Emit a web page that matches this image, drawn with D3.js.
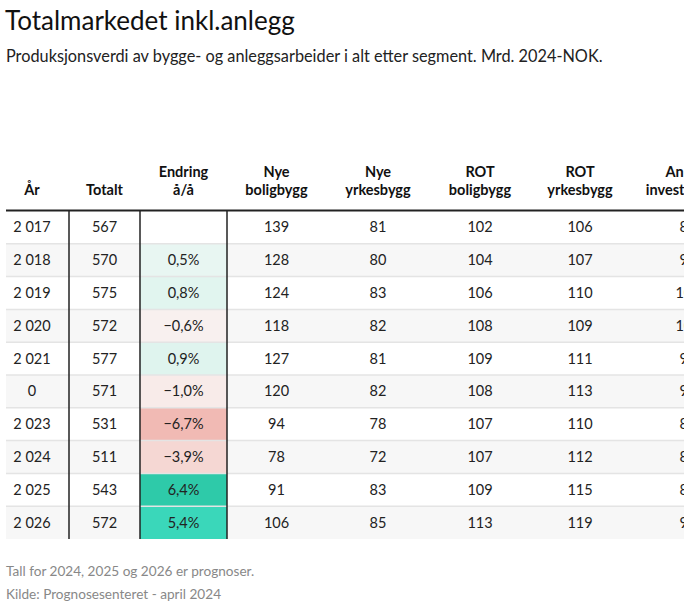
<!DOCTYPE html>
<html><head><meta charset="utf-8">
<script src="https://cdn.jsdelivr.net/npm/d3@7"></script>
<style>
html,body{margin:0;padding:0;background:#fff;}
text{font-family:Lato,"Noto Sans",sans-serif;}
</style></head>
<body><div id="chart"></div>
<script>
const years = [2017, 2018, 2019, 2020, 2021, 0, 2023, 2024, 2025, 2026];
const totalt = [567, 570, 575, 572, 577, 571, 531, 511, 543, 572];
const endring = [null, 0.005, 0.008, -0.006, 0.009, -0.010, -0.067, -0.039, 0.064, 0.054];
const nyeBolig = [139, 128, 124, 118, 127, 120, 94, 78, 91, 106];
const nyeYrkes = [81, 80, 83, 82, 81, 82, 78, 72, 83, 85];
const rotBolig = [102, 104, 106, 108, 109, 108, 107, 107, 109, 113];
const rotYrkes = [106, 107, 110, 109, 111, 113, 110, 112, 115, 119];
const anleggInv = [85, 95, 102, 104, 97, 96, 88, 87, 89, 95];
const headers = [["År"], ["Totalt"], ["Endring", "å/å"], ["Nye", "boligbygg"], ["Nye", "yrkesbygg"], ["ROT", "boligbygg"], ["ROT", "yrkesbygg"], ["Anlegg", "investeringer"]];

(function () {
const W = 690, H = 608;
const svg = d3.select("#chart").append("svg").attr("width", W).attr("height", H);
svg.append("rect").attr("width", W).attr("height", H).attr("fill", "#fff");

svg.append("text").attr("x", 5).attr("y", 30).attr("font-size", 26).attr("fill", "#111")
  .text("Totalmarkedet inkl.anlegg");
svg.append("text").attr("x", 6).attr("y", 62).attr("font-size", 16.3).attr("fill", "#222")
  .text("Produksjonsverdi av bygge- og anleggsarbeider i alt etter segment. Mrd. 2024-NOK.");

const loc = d3.formatLocale({decimal: ",", thousands: "\u00a0", grouping: [3], currency: ["", " kr"], minus: "\u2212", percent: "%"});
const fmtYear = loc.format(",d");
const fmtPct = loc.format(".1%");
const fmtNum = loc.format("d");

const cols = [
  {vals: years, fmt: fmtYear},
  {vals: totalt, fmt: fmtNum},
  {vals: endring, fmt: v => v == null ? "" : fmtPct(v)},
  {vals: nyeBolig, fmt: fmtNum},
  {vals: nyeYrkes, fmt: fmtNum},
  {vals: rotBolig, fmt: fmtNum},
  {vals: rotYrkes, fmt: fmtNum},
  {vals: anleggInv, fmt: fmtNum}
];
const edges = [6, 69, 140, 227];
const centers = [32, 104.5, 183.5, 276.5, 378, 480, 580, 688];

const tableTop = 211, tableBottom = 539, clipR = 684;
const y = d3.scaleBand().domain(d3.range(years.length)).range([tableTop, tableBottom]).padding(0);

const color = d3.scaleLinear()
  .domain([-0.067, -0.039, -0.010, -0.006, 0, 0.005, 0.009, 0.054, 0.064])
  .range(["#f1bab4", "#f5d7d3", "#f8ebe9", "#f8f0ef", "#f6f7f6", "#e8f6f2", "#dff4ee", "#3ad7ba", "#2ecaa9"]);

svg.append("clipPath").attr("id", "clip").append("rect").attr("x", 0).attr("y", 0).attr("width", clipR).attr("height", H);
const g = svg.append("g").attr("clip-path", "url(#clip)");

g.selectAll("rect.row").data(years).join("rect").attr("class", "row")
  .attr("x", edges[0]).attr("width", W).attr("y", (d, i) => y(i)).attr("height", y.bandwidth())
  .attr("fill", (d, i) => i % 2 ? "#f7f7f7" : "#fff");

g.selectAll("rect.chg").data(endring).join("rect").attr("class", "chg")
  .attr("x", edges[2]).attr("width", edges[3] - edges[2]).attr("y", (d, i) => y(i)).attr("height", y.bandwidth())
  .attr("fill", (d, i) => d == null ? (i % 2 ? "#f7f7f7" : "#fff") : color(d));

g.selectAll("line.sep").data(d3.range(1, years.length)).join("line").attr("class", "sep")
  .attr("x1", edges[0]).attr("x2", W).attr("y1", i => y(i)).attr("y2", i => y(i))
  .attr("stroke", "#e4e4e4").attr("stroke-width", 1.5);

g.selectAll("line.vb").data([1, 2, 3]).join("line").attr("class", "vb")
  .attr("x1", i => edges[i]).attr("x2", i => edges[i]).attr("y1", tableTop).attr("y2", tableBottom)
  .attr("stroke", "#222").attr("stroke-width", 1.5);

g.append("line").attr("x1", edges[0]).attr("x2", W).attr("y1", 210.5).attr("y2", 210.5)
  .attr("stroke", "#222").attr("stroke-width", 2.2);

headers.forEach((h, ci) => {
  const t = g.append("text").attr("text-anchor", "middle").attr("font-size", 14.5).attr("font-weight", 700).attr("fill", "#111");
  h.forEach((line, li) => {
    t.append("tspan").attr("x", centers[ci]).attr("y", 195 - (h.length - 1 - li) * 18).text(line);
  });
});

cols.forEach((c, ci) => {
  g.selectAll("text.c" + ci).data(c.vals).join("text").attr("class", "c" + ci)
    .attr("x", centers[ci]).attr("y", (d, i) => y(i) + y.bandwidth() / 2 + 5)
    .attr("text-anchor", "middle").attr("font-size", 14.5).attr("fill", "#222")
    .text(d => c.fmt(d));
});

svg.append("text").attr("x", 6).attr("y", 576).attr("font-size", 13.6).attr("fill", "#888")
  .text("Tall for 2024, 2025 og 2026 er prognoser.");
svg.append("text").attr("x", 6).attr("y", 599).attr("font-size", 13.6).attr("fill", "#888")
  .text("Kilde: Prognosesenteret - april 2024");
})();
</script></body></html>
